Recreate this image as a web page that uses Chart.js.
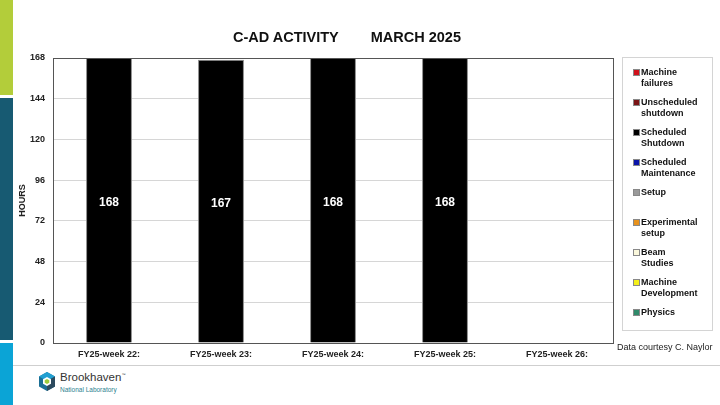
<!DOCTYPE html>
<html>
<head>
<title>C-AD Activity March 2025</title>
<script src="https://cdn.jsdelivr.net/npm/chart.js"></script>
<style>
    body { margin: 0; width: 720px; height: 405px; position: relative; overflow: hidden; background: #fff;
           font-family: "Liberation Sans", Arial, sans-serif; }
    .side { position: absolute; left: 0; width: 13px; }
    #chartBox { position: absolute; left: 0; top: 0; }
    #title { position: absolute; left: 0; top: 29px; width: 694px; text-align: center; font-size: 14.5px;
             font-weight: bold; color: #111; white-space: pre; line-height: 17px; }
    #legend { position: absolute; left: 622px; top: 57px; width: 91px; height: 274px;
              border: 1px solid #d4d4d4; box-sizing: border-box; }
    .item { position: absolute; left: 10px; font-weight: bold; font-size: 9px; line-height: 11px; color: #111; }
    .item span.sw { position: absolute; left: 0; top: 2px; width: 5px; height: 5px; border: 1px solid #888; }
    .item span.tx { display: block; margin-left: 8px; }
    #credit { position: absolute; left: 617px; top: 342px; font-size: 9px; color: #222; white-space: nowrap; }
    #rule { position: absolute; left: 13px; top: 365px; width: 707px; height: 1px; background: #cfcfcf; }
    #logo { position: absolute; left: 37px; top: 371px; }
    #brand1 { position: absolute; left: 60px; top: 371px; font-size: 11.5px; color: #333; }
    #brand2 { position: absolute; left: 60px; top: 386px; font-size: 6.5px; color: #2c7f8f; }
</style>
</head>
<body>
    <div class="side" style="top:0;height:95px;background:#b3cd3a"></div>
    <div class="side" style="top:98px;height:242px;background:#175a72"></div>
    <div class="side" style="top:343px;height:62px;background:#0ba4d6"></div>

    <div id="chartBox"><canvas id="myChart" width="694" height="366"></canvas></div>
    <div id="title">C-AD ACTIVITY        MARCH 2025</div>
    <div id="legend"></div>
    <div id="credit">Data courtesy C. Naylor</div>
    <div id="rule"></div>

    <svg id="logo" width="20" height="22" viewBox="0 0 20 22">
        <polygon points="10,1 18,5.5 18,15.5 10,20 2,15.5 2,5.5" fill="#1b6f95"/>
        <polygon points="10,1 18,5.5 10,10 2,5.5" fill="#21a0d2"/>
        <polygon points="10,10 18,5.5 18,15.5 10,20" fill="#2c4a5e"/>
        <polygon points="10,6 14,8.3 14,12.8 10,15 6,12.8 6,8.3" fill="#fff"/>
        <polygon points="10,8 12.3,9.3 12.3,11.8 10,13 7.7,11.8 7.7,9.3" fill="#9ccb3b"/>
    </svg>
    <div id="brand1">Brookhaven<sup style="font-size:4px">&trade;</sup></div>
    <div id="brand2">National Laboratory</div>

    <script>
        const weeks = ['FY25-week 22:', 'FY25-week 23:', 'FY25-week 24:', 'FY25-week 25:', 'FY25-week 26:'];
        const seriesNames = [['Machine', 'failures'], ['Unscheduled', 'shutdown'], ['Scheduled', 'Shutdown'],
            ['Scheduled', 'Maintenance'], ['Setup'], ['Experimental', 'setup'], ['Beam', 'Studies'],
            ['Machine', 'Development'], ['Physics']];
        const seriesColors = ['#d0101b', '#7b1416', '#000000', '#0a14a8', '#9a9a9a', '#e8921c', '#fbf8dc', '#f4ef1a', '#2f8a6a'];

        // hours per week for each category
        const machineFailures = [0, 0, 0, 0, 0];
        const unscheduledShutdown = [0, 0, 0, 0, 0];
        const scheduledShutdown = [168, 167, 168, 168, 0];
        const scheduledMaintenance = [0, 0, 0, 0, 0];
        const setup = [0, 0, 0, 0, 0];
        const experimentalSetup = [0, 0, 0, 0, 0];
        const beamStudies = [0, 0, 0, 0, 0];
        const machineDevelopment = [0, 0, 0, 0, 0];
        const physics = [0, 0, 0, 0, 0];
        const yTicks = [0, 24, 48, 72, 96, 120, 144, 168];

        const seriesData = [machineFailures, unscheduledShutdown, scheduledShutdown, scheduledMaintenance,
            setup, experimentalSetup, beamStudies, machineDevelopment, physics];

        // html legend
        const legend = document.getElementById('legend');
        seriesNames.forEach((name, i) => {
            const d = document.createElement('div');
            d.className = 'item';
            d.style.top = (9 + i * 30) + 'px';
            d.innerHTML = '<span class="sw" style="background:' + seriesColors[i] + '"></span><span class="tx">' + name.join('<br>') + '</span>';
            legend.appendChild(d);
        });

        const frame = {
            id: 'frame',
            afterDatasetsDraw(chart) {
                const a = chart.chartArea, c = chart.ctx;
                c.save();
                c.strokeStyle = '#555';
                c.lineWidth = 1;
                c.strokeRect(Math.round(a.left) + 0.5, Math.round(a.top) + 0.5, Math.round(a.right - a.left), Math.round(a.bottom - a.top));
                // values inside the bars
                c.fillStyle = '#fff';
                c.font = 'bold 12px "Liberation Sans", Arial';
                c.textAlign = 'center';
                c.textBaseline = 'middle';
                chart.data.datasets.forEach((ds, i) => {
                    chart.getDatasetMeta(i).data.forEach((bar, j) => {
                        if (ds.data[j] > 0) c.fillText(ds.data[j], bar.x, (bar.y + bar.base) / 2 + 2.5);
                    });
                });
                c.restore();
            }
        };

        const ctx = document.getElementById('myChart').getContext('2d');
        new Chart(ctx, {
            type: 'bar',
            data: {
                labels: weeks,
                datasets: seriesData.map((d, i) => ({
                    label: seriesNames[i].join(' '),
                    data: d,
                    backgroundColor: seriesColors[i],
                    borderColor: '#8a8a8a',
                    borderWidth: c => c.raw ? 1 : 0,
                    categoryPercentage: 1,
                    barPercentage: 0.41
                }))
            },
            options: {
                responsive: false,
                animation: false,
                layout: { padding: { left: 0, right: 81, top: 58, bottom: 0 } },
                plugins: {
                    legend: { display: false },
                    tooltip: { enabled: false },
                    title: { display: false }
                },
                scales: {
                    x: {
                        stacked: true,
                        grid: { display: false, drawTicks: false },
                        border: { display: true, color: '#555' },
                        ticks: { color: '#222', padding: 6, font: { family: '"Liberation Sans", Arial', size: 9, weight: 'bold' } },
                        afterFit: s => { s.height = 23; }
                    },
                    y: {
                        stacked: true,
                        min: 0,
                        max: 168,
                        afterBuildTicks: s => { s.ticks = yTicks.map(v => ({ value: v })); },
                        grid: { color: '#d6d6d6', drawTicks: false },
                        border: { display: true, color: '#555' },
                        ticks: { color: '#222', padding: 8, font: { family: '"Liberation Sans", Arial', size: 9, weight: 'bold' } },
                        title: {
                            display: true,
                            text: 'HOURS',
                            color: '#222',
                            font: { family: '"Liberation Sans", Arial', size: 9, weight: 'bold' },
                            padding: { top: 17, bottom: 0 }
                        },
                        afterFit: s => { s.width = 53; }
                    }
                }
            },
            plugins: [frame]
        });
    </script>
</body>
</html>
